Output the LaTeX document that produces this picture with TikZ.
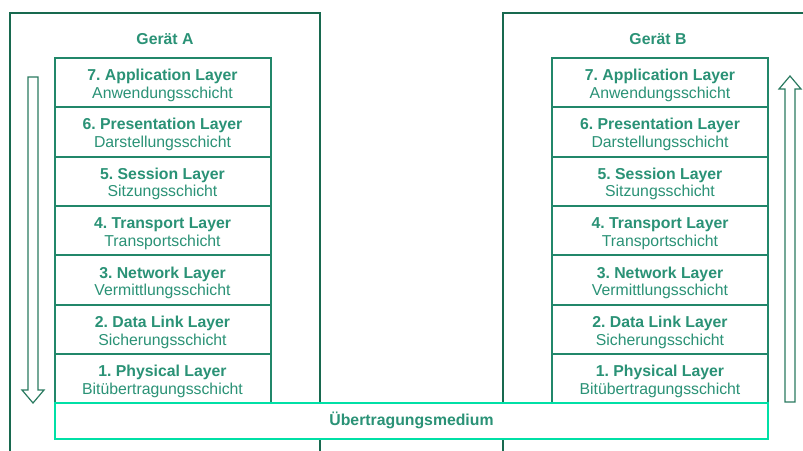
\documentclass[tikz,border=0pt]{standalone}
\usepackage{fontspec}
\setmainfont{Liberation Sans}
\frenchspacing
\definecolor{outerc}{HTML}{18694F}
\definecolor{layerc}{HTML}{21876A}
\definecolor{textc}{HTML}{2A9276}
\definecolor{medc}{HTML}{00E0A6}
\definecolor{arrc}{HTML}{2A7A60}
\tikzset{
  outerbox/.style={draw=outerc, line width=1.5pt},
  layerbox/.style={draw=layerc, line width=1.5pt, fill=white, minimum width=162pt, minimum height=37.05pt, inner sep=0pt},
  layertext/.style={inner sep=0pt, align=center, text=textc, font=\fontsize{11.85}{13.3}\selectfont},
  titlelbl/.style={text=textc, font=\fontsize{11.85}{13.3}\selectfont\bfseries},
  medbox/.style={draw=medc, line width=1.5pt, fill=white, minimum width=534.75pt, minimum height=27pt, inner sep=0pt, text=textc, font=\fontsize{11.85}{13.3}\selectfont\bfseries},
  hollowarrow/.style={draw=arrc, line width=0.9pt, fill=white, line join=miter}
}
\begin{document}
\begin{tikzpicture}[x=0.75pt,y=-0.75pt]
\useasboundingbox (0,0) rectangle (803,450);
\clip (0,0) rectangle (803,450);
% outer device boxes
\draw[outerbox] (10,13) rectangle (320,470);
\draw[outerbox] (503,13) rectangle (817,470);
\node[titlelbl] (titleA) at (165,39) {Gerät A};
\node[titlelbl] (titleB) at (658,39) {Gerät B};
% arrows
\draw[hollowarrow] (28,77) -- (38,77) -- (38,390) -- (44,390) -- (33,403) -- (22,390) -- (28,390) -- cycle;
\draw[hollowarrow] (785,402) -- (795,402) -- (795,89) -- (801,89) -- (790,76) -- (779,89) -- (785,89) -- cycle;
% layers
\foreach \i/\b/\r [count=\k from 0] in {
  7/{7. Application Layer}/Anwendungsschicht,
  6/{6. Presentation Layer}/Darstellungsschicht,
  5/{5. Session Layer}/Sitzungsschicht,
  4/{4. Transport Layer}/Transportschicht,
  3/{3. Network Layer}/Vermittlungsschicht,
  2/{2. Data Link Layer}/Sicherungsschicht,
  1/{1. Physical Layer}/Bitübertragungsschicht}{
  \node[layerbox] (A\i) at (162.5,{82.4+49.4*\k}) {};
  \node[layertext] (A\i t) at (162.5,{85.2+49.4*\k}) {\textbf{\b}\\\r};
  \node[layerbox] (B\i) at (660,{82.4+49.4*\k}) {};
  \node[layertext] (B\i t) at (660,{85.2+49.4*\k}) {\textbf{\b}\\\r};
}
% medium
\node[medbox] (med) at (411.5,420.7) {Übertragungsmedium};
\end{tikzpicture}
\end{document}
